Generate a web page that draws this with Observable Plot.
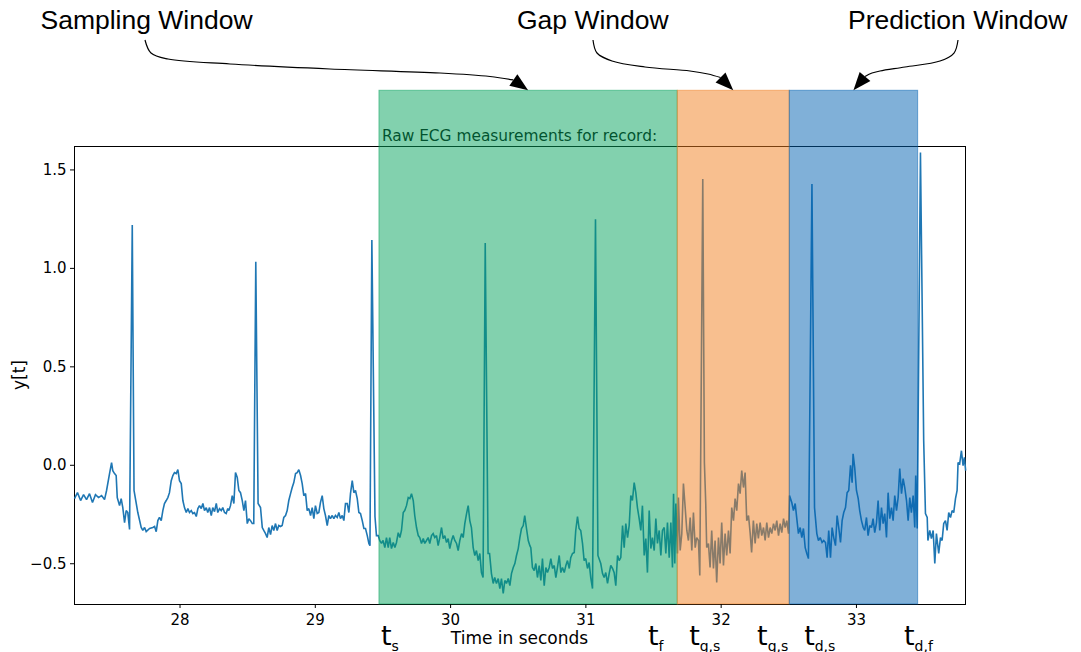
<!DOCTYPE html>
<html><head><meta charset="utf-8">
<script src="https://cdn.jsdelivr.net/npm/d3@7"></script>
<script src="https://cdn.jsdelivr.net/npm/@observablehq/plot@0.6"></script>
<style>body{margin:0;background:#fff}</style>
</head><body><div id="chart"></div>
<script>
const seconds = [27.220,27.242,27.265,27.287,27.309,27.331,27.353,27.375,27.398,27.420,27.442,27.457,27.479,27.494,27.503,27.516,27.528,27.536,27.553,27.565,27.577,27.590,27.602,27.614,27.627,27.647,27.660,27.688,27.713,27.725,27.738,27.750,27.775,27.799,27.812,27.824,27.836,27.848,27.861,27.873,27.885,27.898,27.910,27.922,27.935,27.947,27.959,27.972,27.984,27.996,28.009,28.021,28.033,28.046,28.058,28.070,28.083,28.095,28.107,28.120,28.132,28.144,28.157,28.169,28.181,28.194,28.205,28.218,28.231,28.242,28.255,28.268,28.279,28.292,28.305,28.316,28.329,28.341,28.353,28.361,28.373,28.386,28.398,28.410,28.423,28.435,28.447,28.460,28.472,28.484,28.497,28.509,28.521,28.534,28.545,28.560,28.577,28.595,28.608,28.619,28.632,28.644,28.656,28.669,28.681,28.693,28.706,28.718,28.730,28.743,28.755,28.767,28.780,28.792,28.804,28.817,28.829,28.841,28.854,28.866,28.878,28.891,28.903,28.915,28.928,28.940,28.952,28.965,28.977,28.989,29.001,29.014,29.026,29.038,29.051,29.063,29.075,29.088,29.100,29.112,29.125,29.137,29.149,29.162,29.174,29.186,29.199,29.211,29.223,29.236,29.248,29.260,29.273,29.285,29.297,29.310,29.322,29.334,29.347,29.359,29.371,29.384,29.396,29.404,29.418,29.441,29.452,29.465,29.476,29.489,29.501,29.514,29.526,29.539,29.550,29.563,29.576,29.588,29.600,29.613,29.625,29.637,29.650,29.661,29.674,29.687,29.699,29.711,29.724,29.735,29.748,29.761,29.772,29.785,29.798,29.809,29.822,29.834,29.846,29.859,29.871,29.883,29.896,29.908,29.920,29.933,29.945,29.957,29.970,29.982,29.994,30.007,30.019,30.031,30.044,30.056,30.068,30.081,30.093,30.105,30.118,30.130,30.142,30.154,30.167,30.179,30.191,30.204,30.216,30.228,30.240,30.256,30.277,30.288,30.302,30.315,30.326,30.339,30.352,30.364,30.376,30.389,30.401,30.413,30.426,30.438,30.450,30.463,30.475,30.487,30.500,30.512,30.524,30.537,30.548,30.561,30.574,30.586,30.593,30.605,30.618,30.630,30.642,30.655,30.667,30.679,30.692,30.704,30.716,30.729,30.741,30.753,30.766,30.778,30.790,30.803,30.815,30.827,30.840,30.852,30.864,30.877,30.888,30.901,30.914,30.925,30.938,30.950,30.962,30.975,30.987,30.999,31.012,31.024,31.036,31.049,31.071,31.089,31.110,31.123,31.135,31.147,31.160,31.172,31.184,31.197,31.209,31.221,31.234,31.246,31.258,31.271,31.283,31.295,31.308,31.320,31.332,31.344,31.357,31.369,31.381,31.394,31.406,31.418,31.431,31.443,31.455,31.468,31.480,31.492,31.505,31.517,31.529,31.542,31.554,31.566,31.579,31.591,31.603,31.616,31.628,31.640,31.648,31.657,31.665,31.677,31.684,31.697,31.709,31.721,31.734,31.746,31.758,31.771,31.783,31.795,31.808,31.819,31.832,31.842,31.864,31.876,31.886,31.893,31.906,31.918,31.930,31.943,31.955,31.967,31.980,31.992,32.004,32.017,32.029,32.041,32.054,32.066,32.078,32.091,32.103,32.115,32.128,32.140,32.152,32.165,32.177,32.189,32.202,32.214,32.225,32.238,32.251,32.263,32.275,32.288,32.300,32.313,32.325,32.337,32.350,32.362,32.374,32.387,32.399,32.411,32.424,32.436,32.448,32.461,32.473,32.485,32.498,32.505,32.522,32.534,32.547,32.559,32.571,32.584,32.596,32.608,32.621,32.633,32.645,32.671,32.690,32.707,32.719,32.732,32.746,32.758,32.771,32.783,32.795,32.808,32.820,32.832,32.845,32.857,32.869,32.882,32.894,32.906,32.919,32.931,32.943,32.956,32.968,32.975,32.987,33.000,33.013,33.024,33.037,33.050,33.061,33.074,33.086,33.098,33.111,33.123,33.135,33.148,33.160,33.172,33.185,33.197,33.209,33.222,33.234,33.246,33.259,33.271,33.283,33.296,33.308,33.320,33.333,33.345,33.357,33.370,33.382,33.394,33.406,33.419,33.431,33.438,33.449,33.473,33.497,33.510,33.523,33.528,33.542,33.554,33.567,33.579,33.591,33.608,33.621,33.633,33.645,33.658,33.670,33.682,33.695,33.707,33.719,33.732,33.744,33.751,33.763,33.776,33.788,33.798,33.807];
const ecg = [-0.169,-0.139,-0.179,-0.149,-0.174,-0.144,-0.189,-0.149,-0.164,-0.154,-0.174,-0.128,-0.042,0.014,-0.027,-0.042,-0.052,-0.164,-0.205,-0.169,-0.215,-0.291,-0.230,-0.240,-0.326,1.220,-0.128,-0.240,-0.316,-0.331,-0.316,-0.337,-0.321,-0.316,-0.311,-0.337,-0.281,-0.265,-0.281,-0.230,-0.194,-0.179,-0.164,-0.139,-0.078,-0.052,-0.037,-0.042,-0.022,-0.078,-0.093,-0.179,-0.215,-0.240,-0.220,-0.240,-0.230,-0.245,-0.240,-0.260,-0.220,-0.205,-0.220,-0.194,-0.230,-0.215,-0.240,-0.215,-0.255,-0.215,-0.235,-0.194,-0.240,-0.220,-0.230,-0.215,-0.240,-0.245,-0.220,-0.230,-0.205,-0.154,-0.194,-0.037,-0.062,-0.128,-0.139,-0.179,-0.230,-0.179,-0.296,-0.271,-0.281,-0.296,-0.296,1.034,-0.194,-0.215,-0.316,-0.331,-0.347,-0.367,-0.316,-0.352,-0.306,-0.331,-0.296,-0.331,-0.306,-0.311,-0.306,-0.265,-0.255,-0.230,-0.179,-0.144,-0.113,-0.088,-0.042,-0.037,-0.022,-0.052,-0.093,-0.154,-0.144,-0.230,-0.220,-0.255,-0.215,-0.271,-0.205,-0.245,-0.240,-0.189,-0.154,-0.220,-0.255,-0.306,-0.255,-0.271,-0.255,-0.271,-0.255,-0.265,-0.240,-0.271,-0.255,-0.281,-0.194,-0.194,-0.240,-0.144,-0.078,-0.139,-0.128,-0.169,-0.240,-0.245,-0.281,-0.321,-0.321,-0.357,-0.397,-0.408,1.144,-0.260,-0.357,-0.357,-0.382,-0.397,-0.382,-0.418,-0.367,-0.418,-0.367,-0.423,-0.392,-0.418,-0.392,-0.342,-0.367,-0.331,-0.240,-0.230,-0.205,-0.164,-0.169,-0.144,-0.179,-0.255,-0.316,-0.357,-0.367,-0.397,-0.372,-0.397,-0.382,-0.367,-0.397,-0.357,-0.347,-0.367,-0.357,-0.408,-0.367,-0.316,-0.372,-0.357,-0.392,-0.372,-0.423,-0.382,-0.357,-0.382,-0.397,-0.433,-0.382,-0.347,-0.367,-0.296,-0.245,-0.205,-0.281,-0.316,-0.418,-0.458,-0.433,-0.484,-0.448,-0.545,-0.570,1.129,-0.448,-0.448,-0.550,-0.600,-0.570,-0.600,-0.575,-0.626,-0.575,-0.651,-0.585,-0.600,-0.575,-0.611,-0.550,-0.519,-0.499,-0.458,-0.423,-0.367,-0.321,-0.306,-0.255,-0.321,-0.382,-0.408,-0.418,-0.519,-0.535,-0.499,-0.570,-0.509,-0.585,-0.474,-0.611,-0.519,-0.545,-0.519,-0.474,-0.524,-0.509,-0.570,-0.519,-0.458,-0.545,-0.519,-0.545,-0.509,-0.484,-0.524,-0.469,-0.448,-0.443,-0.331,-0.260,-0.321,-0.331,-0.397,-0.484,-0.474,-0.524,-0.494,-0.570,-0.626,1.249,-0.458,-0.499,-0.550,-0.570,-0.545,-0.600,-0.550,-0.509,-0.524,-0.545,-0.611,-0.458,-0.484,-0.469,-0.306,-0.418,-0.296,-0.367,-0.306,-0.154,-0.179,-0.088,-0.139,-0.215,-0.271,-0.331,-0.205,-0.458,-0.372,-0.545,-0.230,-0.423,-0.367,-0.433,-0.271,-0.397,-0.331,-0.458,-0.331,-0.316,-0.448,-0.291,-0.469,-0.291,-0.519,-0.144,-0.499,-0.194,-0.448,-0.164,-0.433,-0.347,-0.093,-0.215,-0.331,-0.382,-0.265,-0.433,-0.240,-0.418,-0.367,-0.382,-0.560,1.454,0.014,-0.194,-0.418,-0.397,-0.519,-0.331,-0.524,-0.382,-0.595,-0.367,-0.499,-0.291,-0.509,-0.347,-0.458,-0.331,-0.448,-0.215,-0.281,-0.169,-0.230,-0.093,-0.144,-0.027,-0.113,-0.037,-0.281,-0.255,-0.342,-0.443,-0.281,-0.397,-0.296,-0.372,-0.291,-0.357,-0.316,-0.382,-0.291,-0.367,-0.316,-0.347,-0.296,-0.331,-0.281,-0.357,-0.296,-0.342,-0.271,-0.316,-0.281,-0.347,-0.154,-0.189,-0.230,-0.194,-0.271,-0.347,-0.316,-0.367,-0.321,-0.418,-0.448,-0.474,1.428,-0.215,-0.347,-0.382,-0.367,-0.392,-0.382,-0.392,-0.469,-0.331,-0.469,-0.316,-0.367,-0.408,-0.255,-0.316,-0.392,-0.281,-0.240,-0.215,-0.139,-0.128,0.000,-0.088,0.058,-0.012,-0.128,-0.169,-0.230,-0.281,-0.316,-0.331,-0.265,-0.357,-0.306,-0.316,-0.271,-0.342,-0.291,-0.179,-0.331,-0.215,-0.296,-0.245,-0.367,-0.139,-0.271,-0.215,-0.281,-0.154,-0.230,-0.164,-0.017,-0.144,-0.068,-0.113,-0.179,-0.281,-0.164,-0.240,-0.154,-0.316,-0.052,-0.321,1.589,0.125,-0.245,-0.265,-0.382,-0.331,-0.372,-0.331,-0.499,-0.347,-0.448,-0.367,-0.382,-0.296,-0.281,-0.331,-0.240,-0.265,-0.230,-0.240,-0.169,-0.128,0.014,0.008,0.074,-0.002,0.040,-0.027];

const windowNames = ["Sampling Window", "Gap Window", "Prediction Window"];
const windowStart = [29.474, 31.679, 32.507];
const windowEnd = [31.679, 32.507, 33.456];
const windowColors = ["#05a35d", "#f17f1f", "#0161b1"];
const windowTop = 1.902;
const windowLabelX = [40.5, 517, 848];

const xTicks = [28, 29, 30, 31, 32, 33];
const yTicks = [-0.5, 0, 0.5, 1, 1.5];
const xDomain = [27.22, 33.806];
const yDomain = [-0.707, 1.619];

const boundaryBase = ["t", "t", "t", "t", "t", "t"];
const boundarySub = ["s", "f", "g,s", "g,s", "d,s", "d,f"];
const boundaryAt = [29.489, 31.463, 31.767, 32.269, 32.617, 33.355];

const title = "Raw ECG measurements for record:";
const xLabel = "Time in seconds";
const yLabel = "y[t]";

const data = seconds.map((t, i) => ({t, v: ecg[i]}));
const windows = windowNames.map((name, i) => ({name, start: windowStart[i], end: windowEnd[i], color: windowColors[i]}));

const chart = Plot.plot({
  width: 1081, height: 652,
  marginLeft: 74, marginRight: 116, marginTop: 146, marginBottom: 48,
  x: {domain: xDomain},
  y: {domain: yDomain},
  color: {type: "identity"},
  style: {fontFamily: "DejaVu Sans", fontSize: "15px", color: "#000", background: "#fff", overflow: "visible"},
  marks: [
    Plot.frame({stroke: "#000", strokeWidth: 1}),
    Plot.line(data, {x: "t", y: "v", stroke: "#1f77b4", strokeWidth: 1.6, strokeLinejoin: "miter", strokeMiterlimit: 2, strokeLinecap: "butt"}),
    Plot.rect(windows, {x1: "start", x2: "end", y1: () => yDomain[0], y2: () => windowTop, fill: "color", fillOpacity: 0.5, stroke: "color", strokeOpacity: 0.5, strokeWidth: 1}),
    Plot.axisX({ticks: xTicks, tickSize: 4, tickPadding: 6, tickFormat: d => String(d), label: null, fontSize: 15}),
    Plot.axisY({ticks: yTicks, tickSize: 4, tickPadding: 4, tickFormat: d3.format(".1f"), label: null, fontSize: 15})
  ]
});
document.getElementById("chart").appendChild(chart);

const svg = d3.select(chart);
const sx = chart.scale("x"), sy = chart.scale("y");
const cx = (sx.apply(xDomain[0]) + sx.apply(xDomain[1])) / 2;

// title placed beneath the windows
const firstRect = chart.querySelector("g[aria-label='rect']");
const titleNode = document.createElementNS("http://www.w3.org/2000/svg", "text");
titleNode.setAttribute("x", cx); titleNode.setAttribute("y", 140.5);
titleNode.setAttribute("text-anchor", "middle");
titleNode.setAttribute("font-family", "DejaVu Sans");
titleNode.setAttribute("font-size", "15.4");
titleNode.setAttribute("fill", "#000");
titleNode.textContent = title;
firstRect.parentNode.insertBefore(titleNode, firstRect);

svg.append("text").attr("x", cx).attr("y", 644).attr("text-anchor", "middle")
  .attr("font-family", "DejaVu Sans").attr("font-size", 17).attr("fill", "#000").text(xLabel);
svg.append("text").attr("transform", `translate(25,${(sy.apply(yDomain[0]) + sy.apply(yDomain[1])) / 2}) rotate(-90)`)
  .attr("text-anchor", "middle").attr("font-family", "DejaVu Sans").attr("font-size", 17).attr("fill", "#000").text(yLabel);

// boundary labels
boundaryAt.forEach((t, i) => {
  const tx = svg.append("text").attr("x", sx.apply(t)).attr("y", 645).attr("text-anchor", "start")
    .attr("font-family", "DejaVu Sans").attr("fill", "#000");
  tx.append("tspan").attr("font-size", 27).text(boundaryBase[i]);
  tx.append("tspan").attr("font-size", 14).attr("dy", 6).text(boundarySub[i]);
});

// window annotations
svg.selectAll("text.win").data(windowNames).join("text")
  .attr("x", (d, i) => windowLabelX[i]).attr("y", 29).attr("text-anchor", "start")
  .attr("font-family", "Liberation Sans, Arial, sans-serif").attr("font-size", 26.5).attr("fill", "#000").text(d => d);

const arrowPaths = [
  {pts: [[145,40],[151,53],[168,59],[230,64],[330,69],[440,73],[490,76.5]], angle: 35},
  {pts: [[593,40],[597,53],[612,61],[645,67],[690,71],[708,74]], angle: 45},
  {pts: [[958,40],[954,53],[940,61],[905,67],[880,71],[872,73]], angle: 130}
];
const lineGen = d3.line().curve(d3.curveCatmullRom.alpha(0.5));
windows.forEach((w, i) => {
  const tip = [sx.apply((w.start + w.end) / 2), sy.apply(windowTop)];
  const a = arrowPaths[i].angle * Math.PI / 180;
  const L = 18, H = 7;
  const dir = [Math.cos(a), Math.sin(a)];
  const base = [tip[0] - dir[0] * L, tip[1] - dir[1] * L];
  const perp = [-dir[1], dir[0]];
  svg.append("path").attr("d", lineGen([...arrowPaths[i].pts, base]))
    .attr("fill", "none").attr("stroke", "#000").attr("stroke-width", 1.2);
  svg.append("path").attr("d", `M${tip[0]},${tip[1]}L${base[0] + perp[0] * H},${base[1] + perp[1] * H}L${base[0] - perp[0] * H},${base[1] - perp[1] * H}Z`)
    .attr("fill", "#000");
});
</script></body></html>
